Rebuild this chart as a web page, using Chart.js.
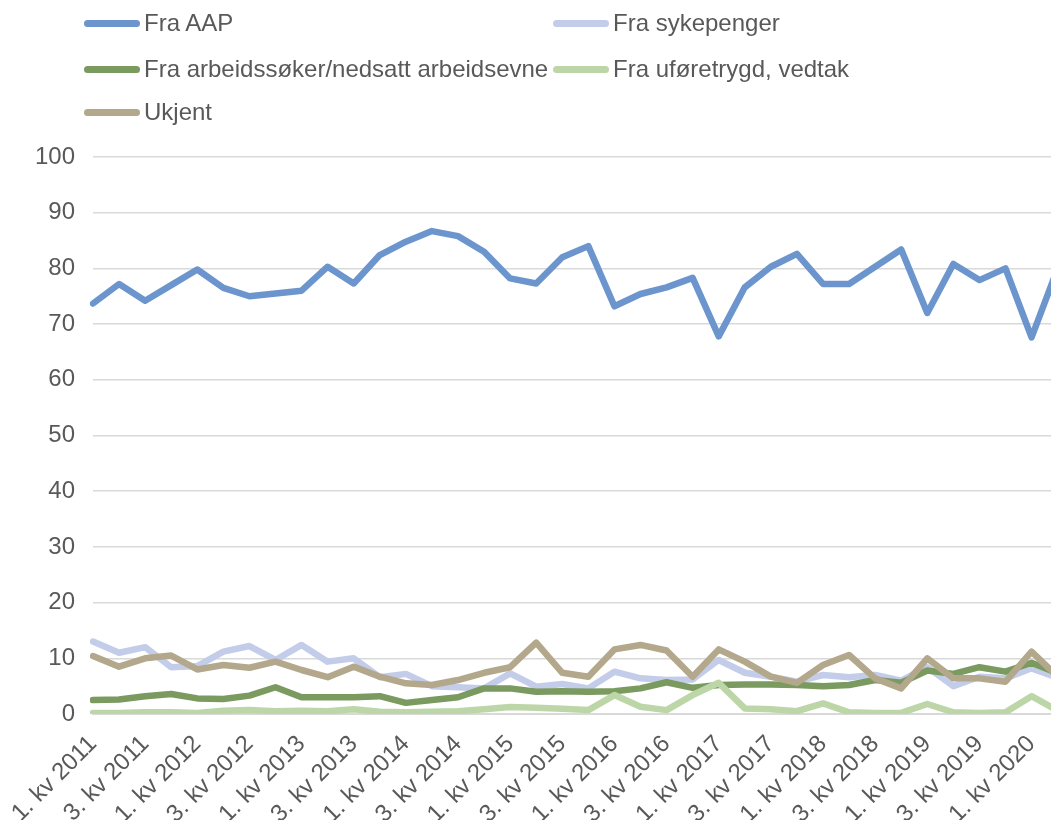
<!DOCTYPE html>
<html>
<head>
<meta charset="utf-8">
<script src="https://cdn.jsdelivr.net/npm/chart.js@4.4.1/dist/chart.umd.min.js"></script>
<style>
  html, body { margin: 0; padding: 0; background: #fff; overflow: hidden; }
  #wrap { position: relative; width: 1051px; height: 820px; overflow: hidden; }
  #chart { position: absolute; left: 0; top: 0; }
  #legend { position: absolute; left: 0; top: 0; width: 1051px; font-family: "Liberation Sans", Arial, sans-serif; font-size: 24px; color: #595959; }
  .item { position: absolute; display: flex; align-items: center; white-space: nowrap; height: 30px; }
  .swatch { width: 56px; height: 7px; border-radius: 4px; margin-right: 4px; }
</style>
</head>
<body>
<div id="wrap">
  <canvas id="chart" width="1086" height="820"></canvas>
  <div id="legend"></div>
</div>
<script>
// quarters 1. kv 2011 .. 2. kv 2020 (last one runs off the right edge, like the original)
const quarters = [];
for (let y = 2011; y <= 2020; y++) {
  for (let q = 1; q <= 4; q++) {
    if (y === 2020 && q > 2) break;
    quarters.push(q + '. kv ' + y);
  }
}

const fraAAP = [73.7, 77.2, 74.2, 77.0, 79.8, 76.5, 75.0, 75.5, 76.0, 80.3, 77.3, 82.4, 84.8, 86.7, 85.8, 83.0, 78.2, 77.3, 82.0, 84.0,
  73.2, 75.4, 76.6, 78.3, 67.8, 76.6, 80.3, 82.6, 77.2, 77.2, 80.3, 83.4, 72.0, 80.8, 77.9, 80.0, 67.6, 80.0];
const fraSykepenger = [13.0, 11.0, 12.0, 8.4, 8.6, 11.2, 12.2, 9.7, 12.4, 9.4, 10.0, 6.6, 7.2, 5.0, 4.8, 4.6, 7.3, 4.9, 5.4, 4.6,
  7.6, 6.4, 6.1, 6.2, 9.7, 7.4, 6.7, 5.8, 7.0, 6.6, 7.0, 6.0, 8.4, 5.0, 6.7, 6.4, 8.2, 6.5];
const fraArbeidssoker = [2.5, 2.6, 3.2, 3.6, 2.8, 2.7, 3.3, 4.8, 3.0, 3.0, 3.0, 3.2, 2.0, 2.5, 3.0, 4.6, 4.6, 4.0, 4.1, 4.0,
  4.1, 4.6, 5.7, 4.7, 5.2, 5.3, 5.3, 5.2, 5.0, 5.2, 6.1, 5.6, 7.8, 7.2, 8.4, 7.6, 9.2, 7.3];
const fraUforetrygd = [0.2, 0.2, 0.3, 0.3, 0.2, 0.6, 0.7, 0.5, 0.6, 0.5, 0.85, 0.4, 0.3, 0.4, 0.5, 0.85, 1.25, 1.1, 0.95, 0.7,
  3.4, 1.3, 0.7, 3.4, 5.6, 1.0, 0.85, 0.5, 1.9, 0.3, 0.2, 0.2, 1.8, 0.3, 0.2, 0.3, 3.2, 0.6];
const ukjent = [10.4, 8.5, 10.0, 10.5, 8.0, 8.8, 8.3, 9.4, 7.9, 6.6, 8.5, 6.7, 5.5, 5.2, 6.1, 7.4, 8.4, 12.8, 7.4, 6.7,
  11.6, 12.4, 11.4, 6.7, 11.6, 9.4, 6.7, 5.6, 8.8, 10.6, 6.4, 4.6, 10.0, 6.4, 6.4, 5.8, 11.2, 6.7];

const yTicks = [0, 10, 20, 30, 40, 50, 60, 70, 80, 90, 100];

const series = [
  {label: 'Fra AAP', data: fraAAP, color: '#6b95cc'},
  {label: 'Fra sykepenger', data: fraSykepenger, color: '#c3cdea'},
  {label: 'Fra arbeidssøker/nedsatt arbeidsevne', data: fraArbeidssoker, color: '#7a9a5f'},
  {label: 'Fra uføretrygd, vedtak', data: fraUforetrygd, color: '#bdd6a7'},
  {label: 'Ukjent', data: ukjent, color: '#b3a88b'},
];

const font = {family: '"Liberation Sans", Arial, sans-serif', size: 24};
const grey = '#595959';

const chart = new Chart(document.getElementById('chart'), {
  type: 'line',
  data: {
    labels: quarters,
    datasets: series.map((s, i) => ({
      label: s.label,
      data: s.data,
      borderColor: s.color,
      backgroundColor: s.color,
      borderWidth: 6.5,
      pointRadius: 0,
      tension: 0,
      borderJoinStyle: 'round',
      borderCapStyle: 'round',
      order: series.length - i
    }))
  },
  options: {
    responsive: false,
    animation: false,
    layout: { padding: {top: 157, left: 0, right: 0, bottom: 0} },
    plugins: { legend: {display: false}, tooltip: {enabled: false} },
    scales: {
      x: {
        offset: false,
        grid: {display: false},
        border: {display: true, color: '#d9d9d9', width: 2},
        ticks: {
          autoSkip: false, minRotation: 45, maxRotation: 45, padding: 8,
          color: grey, font: font,
          callback: function (v, i) { return i % 2 === 0 ? quarters[i] : ''; }
        },
        afterFit: s => { s.height = 106; }
      },
      y: {
        min: 0, max: 100,
        afterBuildTicks: s => { s.ticks = yTicks.map(v => ({value: v})); },
        grid: {color: '#d9d9d9', lineWidth: 1.5, drawTicks: false},
        border: {display: false},
        ticks: {color: grey, font: font, padding: 18},
        afterFit: s => { s.width = 93; }
      }
    }
  }
});

// legend in two columns like the original
const legend = document.getElementById('legend');
const colX = [84, 553];
const rowY = [8, 54, 97];
chart.data.datasets.forEach((ds, i) => {
  const el = document.createElement('div');
  el.className = 'item';
  el.style.left = colX[i % 2] + 'px';
  el.style.top = rowY[Math.floor(i / 2)] + 'px';
  el.innerHTML = `<span class="swatch" style="background:${ds.borderColor}"></span><span>${ds.label}</span>`;
  legend.appendChild(el);
});
</script>
</body>
</html>
